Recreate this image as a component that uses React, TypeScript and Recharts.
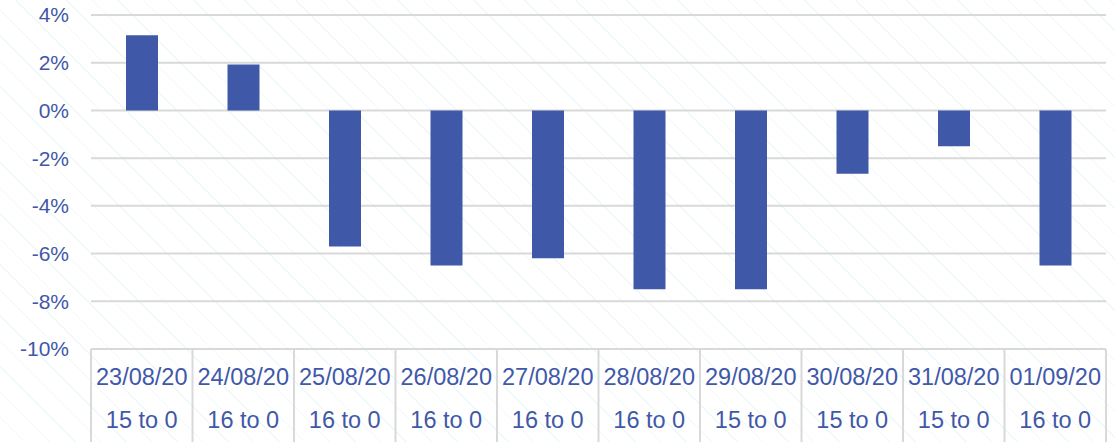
import { Bar, BarChart, CartesianGrid, XAxis, YAxis } from 'recharts'

const dates = ['23/08/20', '24/08/20', '25/08/20', '26/08/20', '27/08/20', '28/08/20', '29/08/20', '30/08/20', '31/08/20', '01/09/20']
const ranges = ['15 to 0', '16 to 0', '16 to 0', '16 to 0', '16 to 0', '16 to 0', '15 to 0', '15 to 0', '15 to 0', '16 to 0']
const changes = [3.15, 1.92, -5.7, -6.5, -6.2, -7.5, -7.5, -2.65, -1.5, -6.5]
const yTicks = [-10, -8, -6, -4, -2, 0, 2, 4]

const data = dates.map((date, i) => ({ date, range: ranges[i], value: changes[i] }))

const W = 1115
const H = 442
const AXIS_W = 91
const RIGHT = 9
const BAND = (W - AXIS_W - RIGHT) / dates.length
const BLUE = '#3F58A8'
const GRID = '#D9D9D9'

function CategoryTick(props: any) {
  const { x, y, index } = props
  const left = x - BAND / 2
  const right = x + BAND / 2
  return (
    <g>
      <line x1={left} y1={y} x2={left} y2={H} stroke={GRID} strokeWidth={2} />
      {index === dates.length - 1 && (
        <line x1={right} y1={y} x2={right} y2={H} stroke={GRID} strokeWidth={2} />
      )}
      <text x={x} y={y + 36} textAnchor="middle" fill={BLUE} fontSize={23.5}>
        {data[index].date}
      </text>
      <text x={x} y={y + 79} textAnchor="middle" fill={BLUE} fontSize={23.5}>
        {data[index].range}
      </text>
    </g>
  )
}

export default function App() {
  return (
    <div
      style={{
        position: 'absolute',
        left: 0,
        top: 0,
        width: W,
        height: H,
        fontFamily: 'Arial, "Liberation Sans", sans-serif',
        background:
          'repeating-linear-gradient(45deg, #ffffff 0px, #ffffff 17px, #edf9f9 17px, #edf9f9 18px)',
      }}
    >
      <BarChart
        width={W}
        height={H}
        data={data}
        barSize={32}
        margin={{ top: 15, right: RIGHT, bottom: 0, left: 0 }}
      >
        <CartesianGrid vertical={false} stroke={GRID} strokeWidth={2} />
        <XAxis
          dataKey="date"
          height={93}
          tickLine={false}
          tickSize={0}
          tickMargin={0}
          axisLine={{ stroke: GRID, strokeWidth: 2 }}
          interval={0}
          tick={<CategoryTick />}
        />
        <YAxis
          width={AXIS_W}
          domain={[-10, 4]}
          ticks={yTicks}
          interval={0}
          axisLine={false}
          tickLine={false}
          tickSize={0}
          tickMargin={22}
          tickFormatter={(v: number) => `${v}%`}
          tick={{ fill: BLUE, fontSize: 21 }}
        />
        <Bar dataKey="value" fill={BLUE} isAnimationActive={false} />
      </BarChart>
    </div>
  )
}
